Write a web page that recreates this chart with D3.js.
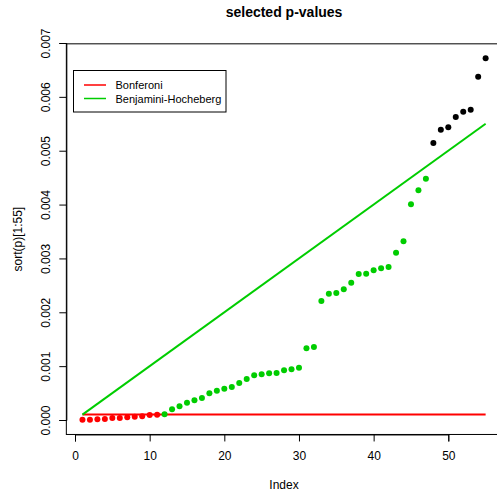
<!DOCTYPE html>
<html>
<head>
<meta charset="utf-8">
<script src="https://cdn.jsdelivr.net/npm/d3@7"></script>
<style>
	body { margin: 0; background: #fff; }
	svg { display: block; font-family: "Liberation Sans", Arial, Helvetica, sans-serif; }
</style>
</head>
<body>
<div id="chart"></div>
<script>
// sorted p-values, first 55
let pvals = [
	0.000006, 0.000006, 0.000013, 0.000019, 0.000037, 0.000037, 0.000050, 0.000062, 0.000070, 0.000095, 0.000098,
	0.000105, 0.000200, 0.000254, 0.000320, 0.000365, 0.000408, 0.000495, 0.000545, 0.000582, 0.000613,
	0.000687, 0.000761, 0.000830, 0.000848, 0.000867, 0.000873, 0.000922, 0.000940, 0.000972, 0.001330,
	0.001355, 0.002210, 0.002345, 0.002358, 0.002426, 0.002549, 0.002711, 0.002717, 0.002780, 0.002816,
	0.002841, 0.003106, 0.003317, 0.004005, 0.004265, 0.004480, 0.005143, 0.005390, 0.005434, 0.005626,
	0.005724, 0.005761, 0.006374, 0.006716
]
let alpha = 0.05
let m = 500
let xTicks = [0, 10, 20, 30, 40, 50]
let yTicks = [0, 0.001, 0.002, 0.003, 0.004, 0.005, 0.006, 0.007]
let legendNames = ["Bonferoni", "Benjamini-Hocheberg"]
let legendColors = ["#ff0000", "#00cd00"]

const width = 497, height = 493
const svg = d3.select("#chart").append("svg")
	.attr("width", width)
	.attr("height", height)

const x = d3.scaleLinear().domain([0, 50]).range([75, 448.3])
const y = d3.scaleLinear().domain([0, 0.007]).range([420, 43])

const n = pvals.length
const xlo = 1 - 0.04 * (n - 1), xhi = n + 0.04 * (n - 1)
const ymin = 0, ymax = d3.max(pvals)
const ylo = ymin - 0.04 * (ymax - ymin), yhi = ymax + 0.04 * (ymax - ymin)

// plot box
svg.append("rect")
	.attr("x", x(xlo))
	.attr("y", y(yhi))
	.attr("width", x(xhi) - x(xlo))
	.attr("height", y(ylo) - y(yhi))
	.attr("fill", "none")
	.attr("stroke", "black")
	.attr("stroke-width", 1)

// axes
const xAxis = svg.append("g")
	.attr("transform", `translate(0,${y(ylo)})`)
	.call(d3.axisBottom(x).tickValues(xTicks).tickSizeOuter(0).tickSize(7).tickPadding(10))
xAxis.selectAll("text").attr("font-size", 12).attr("fill", "black").attr("font-family", null)

const yAxis = svg.append("g")
	.attr("transform", `translate(${x(xlo)},0)`)
	.call(d3.axisLeft(y).tickValues(yTicks).tickFormat(d3.format(".3f")).tickSizeOuter(0).tickSize(7))
yAxis.selectAll("text")
	.attr("font-size", 12).attr("fill", "black").attr("font-family", null)
	.attr("x", null).attr("dy", null)
	.attr("text-anchor", "middle")
	.attr("transform", "translate(-16.5,0) rotate(-90)")

// thresholds
svg.append("line")
	.attr("x1", x(1)).attr("x2", x(n))
	.attr("y1", y(alpha / m)).attr("y2", y(alpha / m))
	.attr("stroke", legendColors[0]).attr("stroke-width", 2)

svg.append("line")
	.attr("x1", x(1)).attr("x2", x(n))
	.attr("y1", y(alpha / m)).attr("y2", y(n * alpha / m))
	.attr("stroke", legendColors[1]).attr("stroke-width", 2)

// points
svg.append("g")
	.selectAll("circle")
	.data(pvals)
	.enter()
	.append("circle")
	.attr("cx", (d, i) => x(i + 1))
	.attr("cy", (d) => y(d))
	.attr("r", 3)
	.attr("fill", (d, i) => {
		if (d < alpha / m) {
			return legendColors[0];
		}
		if (d < (i + 1) * alpha / m) {
			return legendColors[1];
		}
		return "black";
	});

// titles
svg.append("text")
	.attr("x", (x(xlo) + x(xhi)) / 2).attr("y", 17)
	.attr("text-anchor", "middle")
	.attr("font-size", 14).attr("font-weight", "bold")
	.text("selected p-values")

svg.append("text")
	.attr("x", (x(xlo) + x(xhi)) / 2).attr("y", 489)
	.attr("text-anchor", "middle")
	.attr("font-size", 12)
	.text("Index")

svg.append("text")
	.attr("transform", `translate(21.5,${(y(ylo) + y(yhi)) / 2}) rotate(-90)`)
	.attr("text-anchor", "middle")
	.attr("font-size", 12)
	.text("sort(p)[1:55]")

// legend
const lg = svg.append("g")
lg.append("rect")
	.attr("x", 73.5).attr("y", 70.5)
	.attr("width", 152.5).attr("height", 41.5)
	.attr("fill", "white").attr("stroke", "black")

legendNames.forEach((name, i) => {
	const ly = 85 + i * 13.5
	lg.append("line")
		.attr("x1", 84).attr("x2", 106)
		.attr("y1", ly).attr("y2", ly)
		.attr("stroke", legendColors[i]).attr("stroke-width", 1.5)
	lg.append("text")
		.attr("x", 115.5).attr("y", ly + 4)
		.attr("font-size", 11)
		.text(name)
})
</script>
</body>
</html>
